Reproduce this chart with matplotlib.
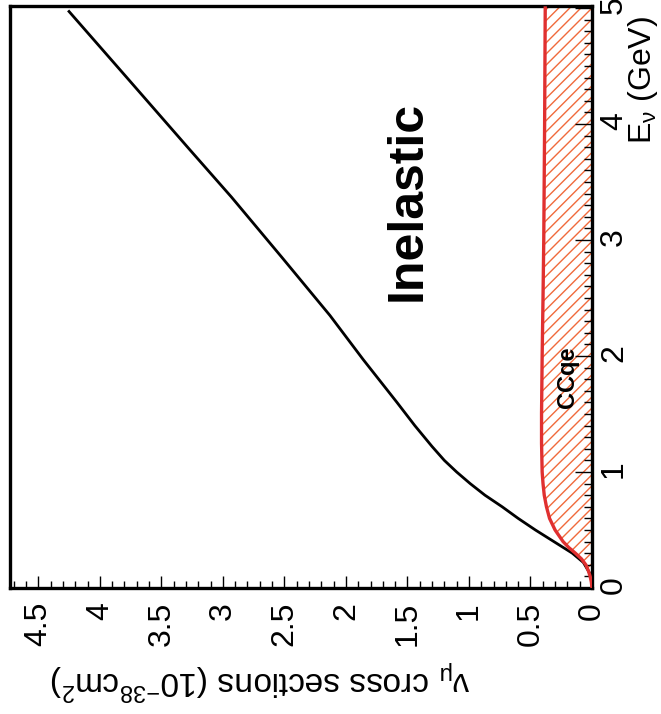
import matplotlib
matplotlib.use("Agg")
import matplotlib.pyplot as plt
from matplotlib.ticker import MultipleLocator, FuncFormatter

plt.rcParams['font.family'] = ['Liberation Sans', 'DejaVu Sans']
plt.rcParams['mathtext.fontset'] = 'custom'
plt.rcParams['mathtext.rm'] = 'Liberation Sans'
plt.rcParams['mathtext.it'] = 'Liberation Sans'
plt.rcParams['hatch.linewidth'] = 1.0

# total (inelastic) cross section
energy_total = [0.10, 0.13, 0.22, 0.30, 0.40, 0.50, 0.60, 0.70, 0.80, 0.90, 1.00, 1.10,
                1.22, 1.40, 1.60, 1.97, 2.35, 2.85, 3.37, 3.78, 4.40, 4.97]
sigma_total = [0.0, 0.02, 0.07, 0.16, 0.31, 0.46, 0.60, 0.73, 0.87, 0.99, 1.10, 1.20,
               1.30, 1.44, 1.585, 1.86, 2.13, 2.52, 2.93, 3.27, 3.78, 4.25]

# CCqe cross section
energy_ccqe = [0.0, 0.05, 0.10, 0.15, 0.20, 0.25, 0.30, 0.35, 0.40, 0.50, 0.60, 0.70, 0.80, 0.90,
               1.0, 1.25, 1.5, 2.0, 2.5, 3.0, 4.0, 5.0]
sigma_ccqe = [0.0, 0.005, 0.015, 0.03, 0.05, 0.085, 0.135, 0.19, 0.235, 0.30, 0.345, 0.37, 0.388, 0.398,
              0.405, 0.41, 0.41, 0.405, 0.398, 0.392, 0.385, 0.38]

fig = plt.figure(figsize=(6.61, 7.14), dpi=100)
ax = fig.add_axes([0.0151, 0.1765, 0.8805, 0.8144])

# the chart is drawn turned on its side: energy runs up, cross section runs left
ax.fill_betweenx(energy_ccqe, 0, sigma_ccqe, facecolor='none', edgecolor='#f06a3c',
                 hatch='///', linewidth=0, zorder=1)
ax.plot(sigma_total, energy_total, color='black', lw=2.0, zorder=2)
ax.plot(sigma_ccqe, energy_ccqe, color='#e03030', lw=2.4, zorder=3)

ax.set_xlim(4.73, 0)
ax.set_ylim(0, 5.013)

fmt = FuncFormatter(lambda v, p: '{:g}'.format(v))
ax.xaxis.set_major_locator(MultipleLocator(0.5))
ax.xaxis.set_minor_locator(MultipleLocator(0.1))
ax.xaxis.set_major_formatter(fmt)
ax.yaxis.set_major_locator(MultipleLocator(1))
ax.yaxis.set_minor_locator(MultipleLocator(0.1))
ax.yaxis.set_major_formatter(fmt)
ax.yaxis.tick_right()

ax.tick_params(axis='x', which='both', direction='in', top=False, labelrotation=90,
               labelsize=23, pad=10, width=1)
ax.tick_params(axis='y', which='both', direction='in', left=False, right=True,
               labelrotation=90, labelsize=23, pad=5, width=1)
ax.tick_params(axis='x', which='major', length=9)
ax.tick_params(axis='x', which='minor', length=5)
ax.tick_params(axis='y', which='major', length=12)
ax.tick_params(axis='y', which='minor', length=6)

for s in ax.spines.values():
    s.set_linewidth(2.4)

ax.text(1.50, 3.34, 'Inelastic', rotation=90, fontsize=36, fontweight='bold',
        ha='center', va='center')
ax.text(0.20, 1.82, 'CCqe', rotation=90, fontsize=17, fontweight='bold',
        ha='center', va='center')

fig.text(643 / 661, 1 - 80 / 714, r'E$_{\nu}$ (GeV)', rotation=90, fontsize=23,
         ha='center', va='center')
fig.text(260 / 661, 1 - 680 / 714, r'$\nu_{\mu}$ cross sections (10$^{-38}$cm$^{2}$)',
         rotation=180, fontsize=24, ha='center', va='center')

fig.savefig('out.png', dpi=100)
